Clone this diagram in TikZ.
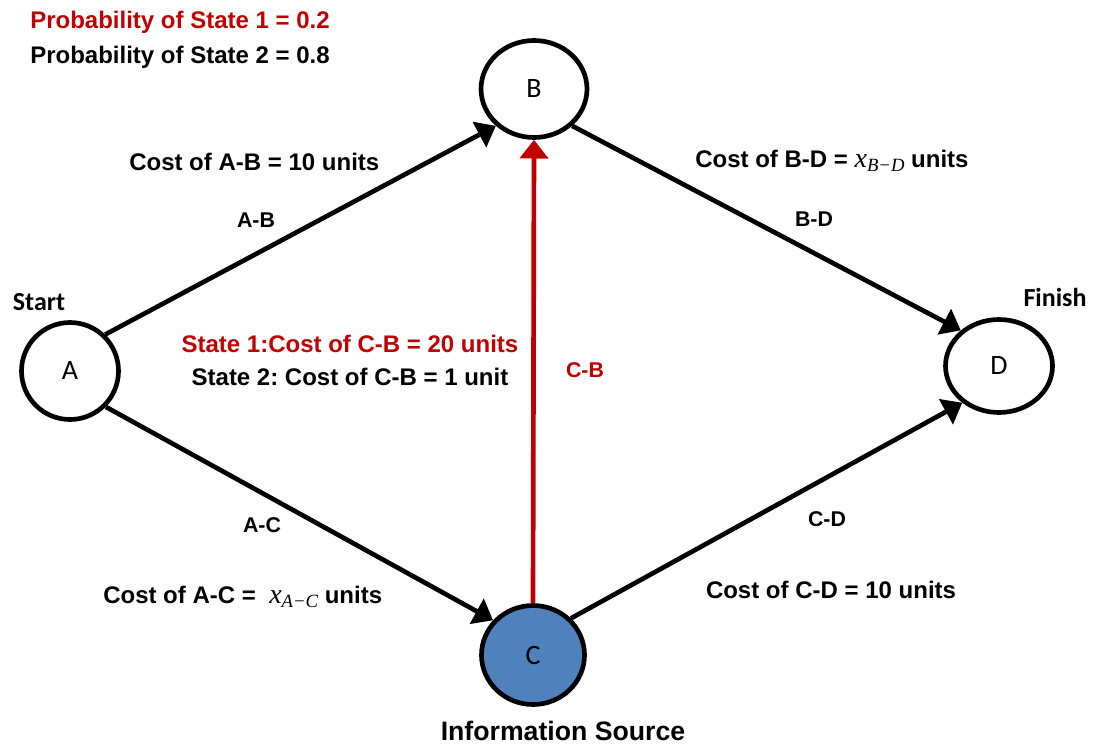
\documentclass[tikz,border=0pt]{standalone}
\usepackage{fontspec}
\setmainfont{Liberation Sans}
\newfontfamily\calibrifont{Carlito}
\newfontfamily\mathserif{Liberation Serif}
\usetikzlibrary{arrows.meta,shapes.geometric}
\definecolor{darkred}{HTML}{C00000}
\definecolor{nodeblue}{HTML}{4F81BD}
\newcommand{\varsub}[1]{{\mathserif\mdseries\itshape\fontsize{21}{24}\selectfont x\raisebox{-0.35ex}{\fontsize{14}{16}\selectfont #1}}}
\frenchspacing
\begin{document}
\begin{tikzpicture}[x=0.75pt,y=-0.75pt,
  state/.style={ellipse, draw=black, line width=3.5pt, fill=white, inner sep=0pt,
    font=\calibrifont\fontsize{21}{25}\selectfont},
  conn/.style={line width=3.5pt, -{Triangle[length=14pt,width=21pt]}},
  lbl/.style={font=\fontsize{18}{22}\selectfont\bfseries, inner sep=0pt},
  edgelbl/.style={font=\fontsize{16}{19}\selectfont\bfseries, inner sep=0pt},
  endlbl/.style={font=\calibrifont\bfseries\fontsize{19.5}{23}\selectfont, inner sep=0pt}]
\useasboundingbox (0,0) rectangle (1098,746);

% nodes
\node[state, minimum width=72.75pt, minimum height=72.75pt] (A) at (70,371) {A};
\node[state, minimum width=79.5pt, minimum height=72.75pt] (B) at (534,89) {B};
\node[state, fill=nodeblue, minimum width=77.25pt, minimum height=74.25pt] (C) at (533,655) {C};
\node[state, minimum width=80.25pt, minimum height=69.75pt] (D) at (999,366) {D};

% connectors
\draw[conn] (A.46) -- (B.224);
\draw[conn] (B.-44) -- (D.137);
\draw[conn] (A.-45) -- (C.139);
\draw[conn] (C.44) -- (D.225);
\draw[conn, darkred] (C.north) -- (B.south);

% labels
\node[lbl, text=darkred, anchor=base west] (p1) at (30,28) {Probability of State 1 = 0.2};
\node[lbl, anchor=base west] (p2) at (30,63) {Probability of State 2 = 0.8};
\node[lbl, anchor=base west] (cab) at (129,170) {Cost of A-B = 10 units};
\node[edgelbl, anchor=base] (lab) at (256,227) {A-B};
\node[endlbl, anchor=base] (start) at (39,310) {Start};
\node[endlbl, anchor=base] (finish) at (1055,306) {Finish};
\node[lbl, text=darkred, anchor=base] (s1) at (350,352) {State 1:Cost of C-B = 20 units};
\node[lbl, anchor=base] (s2) at (350,385) {State 2: Cost of C-B = 1 unit};
\node[edgelbl, text=darkred, anchor=base] (lcb) at (585,377) {C-B};
\node[lbl, anchor=base west] (cbd) at (695,167) {Cost of B-D = \varsub{B−D} units};
\node[edgelbl, anchor=base] (lbd) at (814,226) {B-D};
\node[edgelbl, anchor=base] (lac) at (262,532) {A-C};
\node[lbl, anchor=base west] (cac) at (103,603) {Cost of A-C = \ \varsub{A−C} units};
\node[edgelbl, anchor=base] (lcd) at (827,526) {C-D};
\node[lbl, anchor=base] (ccd) at (831,598) {Cost of C-D = 10 units};
\node[font=\bfseries\fontsize{20}{24}\selectfont, inner sep=0pt, anchor=base] (info) at (563,740) {Information Source};
\end{tikzpicture}
\end{document}
